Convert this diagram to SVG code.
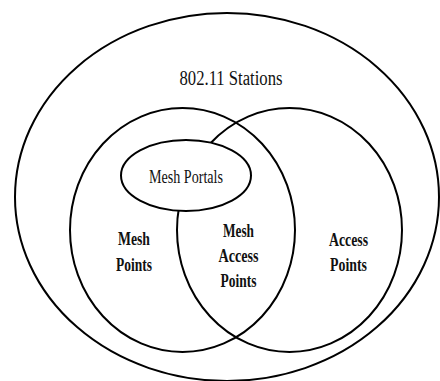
<svg xmlns="http://www.w3.org/2000/svg" width="440" height="381" viewBox="0 0 440 381">
<style>
.sh{fill:none;stroke:#000;stroke-width:2}
.t{font-family:"Liberation Serif","Times New Roman",serif;fill:#111;text-anchor:middle}
.b{font-weight:bold;font-size:19px}
</style>
<rect width="440" height="381" fill="#fff"/>
<g id="stations">
<ellipse class="sh" cx="227" cy="197" rx="212" ry="184" stroke-width="2.3"/>
<text class="t" x="231" y="85" font-size="20" textLength="103" lengthAdjust="spacingAndGlyphs">802.11 Stations</text>
</g>
<g id="mesh-points">
<ellipse class="sh" cx="182.5" cy="230" rx="112.5" ry="122"/>
<text class="t b" x="134" y="245" textLength="32" lengthAdjust="spacingAndGlyphs">Mesh</text>
<text class="t b" x="134" y="271" textLength="36" lengthAdjust="spacingAndGlyphs">Points</text>
</g>
<g id="access-points">
<ellipse class="sh" cx="289.5" cy="230" rx="112.5" ry="122"/>
<text class="t b" x="348.5" y="246" textLength="39" lengthAdjust="spacingAndGlyphs">Access</text>
<text class="t b" x="348.5" y="271" textLength="37" lengthAdjust="spacingAndGlyphs">Points</text>
</g>
<g id="mesh-access-points">
<text class="t b" x="238.5" y="237" textLength="31" lengthAdjust="spacingAndGlyphs">Mesh</text>
<text class="t b" x="238.5" y="262" textLength="40" lengthAdjust="spacingAndGlyphs">Access</text>
<text class="t b" x="238.5" y="287" textLength="36" lengthAdjust="spacingAndGlyphs">Points</text>
</g>
<g id="mesh-portals">
<ellipse cx="186" cy="175.5" rx="65" ry="35.5" fill="#fff" stroke="#000" stroke-width="2"/>
<text class="t" x="186" y="183" font-size="18" textLength="74" lengthAdjust="spacingAndGlyphs">Mesh Portals</text>
</g>
</svg>
